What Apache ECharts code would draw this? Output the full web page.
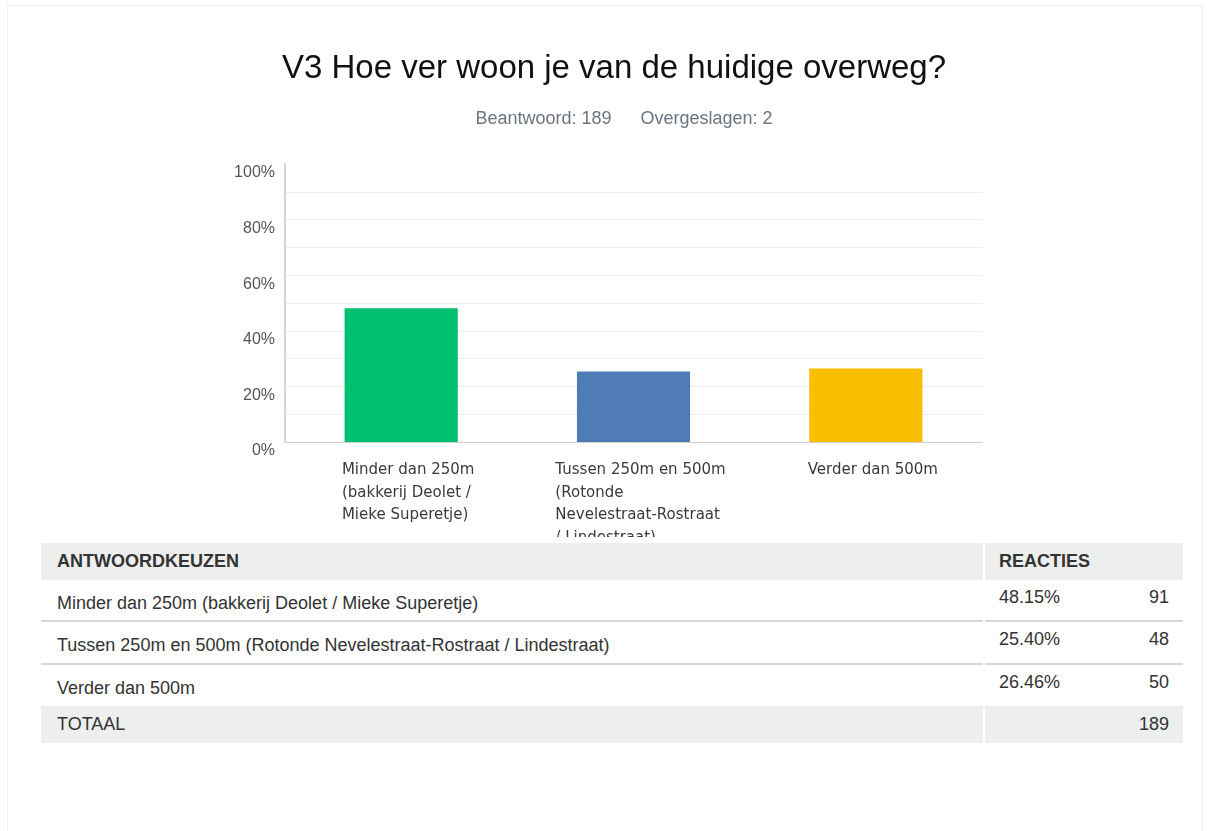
<!DOCTYPE html>
<html><head><meta charset="utf-8">
<script src="https://cdn.jsdelivr.net/npm/echarts@6/dist/echarts.min.js"></script>
<style>
html,body{margin:0;padding:0;background:#fff;width:1211px;height:831px;overflow:hidden;font-family:"Liberation Sans",Arial,sans-serif;}
#card{position:absolute;left:7px;top:5px;width:1196px;height:840px;border:1px solid #f1f1f1;box-sizing:border-box;}
#chart{position:absolute;left:0;top:0;width:1211px;height:537px;}
.cell{position:absolute;color:#333;font-size:18px;white-space:nowrap;line-height:20px;}
.bg{position:absolute;background:#edeeee;}
.sep{position:absolute;background:#d6d7d8;height:2px;}
</style></head>
<body>
<div id="card"></div>
<div id="chart"></div>
<div id="table"></div>
<script>
const titleText = 'V3 Hoe ver woon je van de huidige overweg?';
const answeredText = 'Beantwoord: 189';
const skippedText = 'Overgeslagen: 2';
const categories = [
  'Minder dan 250m (bakkerij Deolet / Mieke Superetje)',
  'Tussen 250m en 500m (Rotonde Nevelestraat-Rostraat / Lindestraat)',
  'Verder dan 500m'
];
const axisLabelLines = [
  ['Minder dan 250m', '(bakkerij Deolet /', 'Mieke Superetje)'],
  ['Tussen 250m en 500m', '(Rotonde', 'Nevelestraat-Rostraat', '/ Lindestraat)'],
  ['Verder dan 500m']
];
const percents = [48.15, 25.40, 26.46];
const counts = [91, 48, 50];
const total = 189;
const barColors = ['#00bf6f', '#507cb6', '#f9be00'];
const yTicks = [0, 20, 40, 60, 80, 100];

const chart = echarts.init(document.getElementById('chart'), null, {renderer: 'canvas'});
chart.setOption({
  animation: false,
  title: [
    {text: titleText, left: 609, textAlign: 'center', top: 47, textStyle: {fontFamily: 'Liberation Sans', fontSize: 33, fontWeight: 'normal', color: '#111'}},
    {text: '{a|' + answeredText + '}{g|}{a|' + skippedText + '}', left: 619, textAlign: 'center', top: 105,
     textStyle: {fontWeight: 'normal', rich: {a: {fontFamily: 'Liberation Sans', fontSize: 18, fontWeight: 'normal', color: '#6b7480'}, g: {width: 29}}}}
  ],
  grid: {left: 285, right: 229, top: 164, bottom: 95, containLabel: false, outerBoundsMode: 'none'},
  xAxis: {
    type: 'category',
    data: categories,
    axisLine: {lineStyle: {color: '#cfd0d1', width: 1}},
    axisTick: {show: false},
    axisLabel: {
      interval: 0, margin: 17, padding: [0, 0, 0, 14],
      formatter: function (v, i) { return axisLabelLines[i].map(l => '{a|' + l + '}').join('\n'); },
      rich: {a: {align: 'left', fontFamily: 'DejaVu Sans', fontSize: 15, color: '#3a3a3a', lineHeight: 22.5}}
    }
  },
  yAxis: {
    type: 'value', min: 0, max: 100, interval: 10,
    axisLine: {show: true, lineStyle: {color: '#d4d5d6', width: 2}},
    axisTick: {show: false},
    splitLine: {show: true, showMaxLine: false, lineStyle: {color: '#eeeeee', width: 1}},
    axisLabel: {
      margin: 10, verticalAlign: 'top', padding: [1, 0, 0, 0],
      fontFamily: 'Liberation Sans', fontSize: 16, color: '#555',
      formatter: function (v) { return yTicks.indexOf(v) >= 0 ? v + '%' : ''; }
    }
  },
  series: [{
    type: 'bar',
    data: percents.map((p, i) => ({value: p, itemStyle: {color: barColors[i]}})),
    barWidth: '48.7%'
  }]
});

// table
const t = document.getElementById('table');
function add(html) { t.insertAdjacentHTML('beforeend', html); }
const L = 41, R = 1183, DIV = 983, DIV2 = 985;
add(`<div class="bg" style="left:${L}px;top:543px;width:${DIV-L}px;height:37px"></div>`);
add(`<div class="bg" style="left:${DIV2}px;top:543px;width:${R-DIV2}px;height:37px"></div>`);
add(`<div class="cell" style="left:57px;top:551px;font-weight:bold">ANTWOORDKEUZEN</div>`);
add(`<div class="cell" style="left:999px;top:551px;font-weight:bold">REACTIES</div>`);
const rowTops = [580, 622, 665];
const rowH = [40, 41, 41];
categories.forEach((c, i) => {
  const top = rowTops[i];
  add(`<div class="cell" style="left:57px;top:${top + 13}px">${c}</div>`);
  add(`<div class="cell" style="left:999px;top:${top + 7}px">${percents[i].toFixed(2)}%</div>`);
  add(`<div class="cell" style="right:${1211-1169}px;top:${top + 7}px;text-align:right">${counts[i]}</div>`);
  if (i < categories.length - 1) {
    add(`<div class="sep" style="left:${L}px;top:${top + rowH[i]}px;width:${DIV-L}px"></div>`);
    add(`<div class="sep" style="left:${DIV2}px;top:${top + rowH[i]}px;width:${R-DIV2}px"></div>`);
  }
});
add(`<div class="bg" style="left:${L}px;top:706px;width:${DIV-L}px;height:37px"></div>`);
add(`<div class="bg" style="left:${DIV2}px;top:706px;width:${R-DIV2}px;height:37px"></div>`);
add(`<div class="cell" style="left:57px;top:714px">TOTAAL</div>`);
add(`<div class="cell" style="right:${1211-1169}px;top:714px;text-align:right">${total}</div>`);
</script>
</body></html>
